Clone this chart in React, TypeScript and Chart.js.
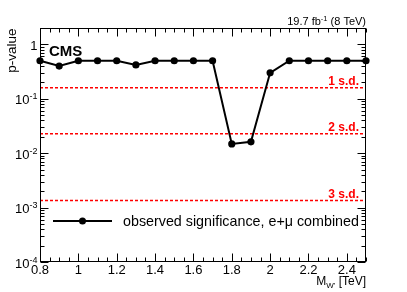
import { useEffect, useRef } from "react";
import { Chart, registerables } from "chart.js";

Chart.register(...registerables);

// ---- data ----
const massPoints = [0.8, 0.9, 1.0, 1.1, 1.2, 1.3, 1.4, 1.5, 1.6, 1.7, 1.8, 1.9, 2.0, 2.1, 2.2, 2.3, 2.4, 2.5];
const pValues = [0.5, 0.4, 0.5, 0.5, 0.5, 0.42, 0.5, 0.5, 0.5, 0.5, 0.0148, 0.0162, 0.3, 0.5, 0.5, 0.5, 0.5, 0.5];
const sdLevels = [0.1587, 0.02275, 0.00135];
const sdLabels = ["1 s.d.", "2 s.d.", "3 s.d."];
const xTickValues = [0.8, 1.0, 1.2, 1.4, 1.6, 1.8, 2.0, 2.2, 2.4];
const xTickLabels = ["0.8", "1", "1.2", "1.4", "1.6", "1.8", "2", "2.2", "2.4"];
const yDecades = [1, 1e-1, 1e-2, 1e-3, 1e-4];
const yDecadeExponents = ["", "-1", "-2", "-3", "-4"];
const xMin = 0.8;
const xMax = 2.5;
const yMin = 1e-4;
const yMax = 2;
const legendLabel = "observed significance, e+\u03bc combined";
const cmsLabel = "CMS";

const FONT = "'Liberation Sans', Arial, Helvetica, sans-serif";

type Part = { text: string; size: number; dy?: number; bold?: boolean };

function richWidth(ctx: CanvasRenderingContext2D, parts: Part[]) {
  let w = 0;
  for (const p of parts) {
    ctx.font = `${p.bold ? "bold " : ""}${p.size}px ${FONT}`;
    w += ctx.measureText(p.text).width;
  }
  return w;
}

function drawRich(ctx: CanvasRenderingContext2D, parts: Part[], x: number, y: number, align: "left" | "right" | "center") {
  const w = richWidth(ctx, parts);
  let cx = align === "left" ? x : align === "right" ? x - w : x - w / 2;
  ctx.textAlign = "left";
  ctx.textBaseline = "alphabetic";
  for (const p of parts) {
    ctx.font = `${p.bold ? "bold " : ""}${p.size}px ${FONT}`;
    ctx.fillText(p.text, cx, y + (p.dy || 0));
    cx += ctx.measureText(p.text).width;
  }
}

const rootStyle = {
  id: "rootStyle",
  afterDatasetsDraw(chart: any) {
    const ctx: CanvasRenderingContext2D = chart.ctx;
    const xs = chart.scales.x;
    const ys = chart.scales.y;
    const { left, right, top, bottom } = chart.chartArea;
    const L = Math.round(left) + 0.5;
    const R = Math.round(right) - 0.5;
    const T = Math.round(top) + 0.5;
    const B = Math.round(bottom) - 0.5;
    ctx.save();
    ctx.strokeStyle = "#000";
    ctx.fillStyle = "#000";
    ctx.lineWidth = 1;

    // frame
    ctx.strokeRect(L, T, R - L, B - T);

    // x ticks (major + minor), bottom and top, inward
    ctx.beginPath();
    for (let i = 0; i * 0.05 + xMin <= xMax + 1e-9; i++) {
      const v = xMin + i * 0.05;
      const px = Math.round(xs.getPixelForValue(v)) + 0.5;
      const major = i % 4 === 0;
      const len = major ? 8 : 4;
      ctx.moveTo(px, B);
      ctx.lineTo(px, B - len);
      ctx.moveTo(px, T);
      ctx.lineTo(px, T + len);
    }
    // y ticks
    for (let e = -4; e <= 0; e++) {
      for (let m = 1; m <= 9; m++) {
        const v = m * Math.pow(10, e);
        if (v > yMax || v < yMin) continue;
        const py = Math.round(ys.getPixelForValue(v)) + 0.5;
        const len = m === 1 ? 8 : 4;
        ctx.moveTo(L, py);
        ctx.lineTo(L + len, py);
        ctx.moveTo(R, py);
        ctx.lineTo(R - len, py);
      }
    }
    ctx.stroke();

    // x tick labels
    ctx.font = `13px ${FONT}`;
    ctx.textAlign = "center";
    ctx.textBaseline = "alphabetic";
    xTickValues.forEach((v, i) => {
      ctx.fillText(xTickLabels[i], xs.getPixelForValue(v), B + 12);
    });

    // y tick labels
    yDecades.forEach((v, i) => {
      const py = ys.getPixelForValue(v);
      const parts: Part[] = yDecadeExponents[i]
        ? [{ text: "10", size: 13 }, { text: yDecadeExponents[i], size: 9, dy: -5 }]
        : [{ text: "1", size: 13 }];
      drawRich(ctx, parts, L - 3, py + 5.5, "right");
    });

    // axis titles
    drawRich(
      ctx,
      [
        { text: "M", size: 12 },
        { text: "W'", size: 8, dy: 2.5 },
        { text: " [TeV]", size: 12 },
      ],
      R + 0.5,
      285,
      "right"
    );
    ctx.save();
    ctx.translate(16, T);
    ctx.rotate(-Math.PI / 2);
    ctx.font = `13.5px ${FONT}`;
    ctx.textAlign = "right";
    ctx.textBaseline = "alphabetic";
    ctx.fillText("p-value", 0, 0);
    ctx.restore();

    // luminosity text
    drawRich(
      ctx,
      [
        { text: "19.7 fb", size: 11 },
        { text: "-1", size: 7.5, dy: -4 },
        { text: " (8 TeV)", size: 11 },
      ],
      R + 0.5,
      25,
      "right"
    );

    // CMS
    ctx.font = `bold 15px ${FONT}`;
    ctx.textAlign = "left";
    ctx.fillText(cmsLabel, 49, 56);

    // s.d. labels
    ctx.fillStyle = "#ff0000";
    ctx.font = `bold 12px ${FONT}`;
    ctx.textAlign = "right";
    sdLevels.forEach((v, i) => {
      ctx.fillText(sdLabels[i], 359, ys.getPixelForValue(v) - 2.5);
    });

    // legend
    ctx.strokeStyle = "#000";
    ctx.fillStyle = "#000";
    ctx.lineWidth = 2;
    ctx.beginPath();
    ctx.moveTo(53, 221);
    ctx.lineTo(112, 221);
    ctx.stroke();
    ctx.beginPath();
    ctx.arc(82.5, 221, 3.5, 0, Math.PI * 2);
    ctx.fill();
    ctx.font = `14.3px ${FONT}`;
    ctx.textAlign = "left";
    ctx.fillText(legendLabel, 123, 226);

    ctx.restore();
  },
};

export default function App() {
  const ref = useRef<HTMLCanvasElement | null>(null);
  useEffect(() => {
    document.body.style.margin = "0";
    const canvas = ref.current;
    if (!canvas) return;
    const sdDatasets = sdLevels.map((lvl) => ({
      data: [
        { x: xMin, y: lvl },
        { x: xMax, y: lvl },
      ],
      borderColor: "#ff0000",
      borderWidth: 1.5,
      borderDash: [3, 2],
      pointRadius: 0,
      fill: false,
    }));
    const chart = new Chart(canvas, {
      type: "line",
      data: {
        datasets: [
          {
            data: massPoints.map((m, i) => ({ x: m, y: pValues[i] })),
            borderColor: "#000",
            backgroundColor: "#000",
            borderWidth: 2,
            pointRadius: 3.6,
            pointBorderWidth: 0,
            pointBackgroundColor: "#000",
            fill: false,
            tension: 0,
            clip: false as any,
          },
          ...sdDatasets,
        ],
      },
      options: {
        animation: false,
        responsive: false,
        devicePixelRatio: 1,
        layout: { padding: { left: 40, right: 41, top: 28, bottom: 30 } },
        plugins: { legend: { display: false }, tooltip: { enabled: false } },
        events: [],
        scales: {
          x: { type: "linear", min: xMin, max: xMax, display: false },
          y: { type: "logarithmic", min: yMin, max: yMax, display: false },
        },
      },
      plugins: [rootStyle],
    });
    return () => chart.destroy();
  }, []);
  return (
    <div style={{ width: 407, height: 292, background: "#fff" }}>
      <canvas ref={ref} width={407} height={292} style={{ display: "block" }} />
    </div>
  );
}
